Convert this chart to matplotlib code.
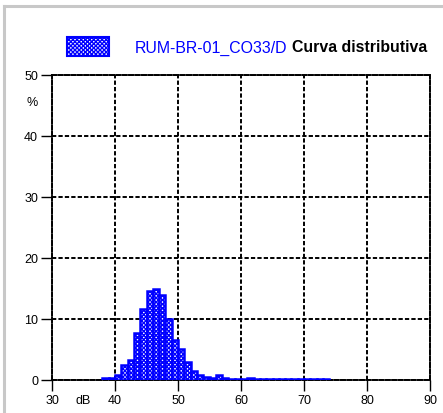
import numpy as np
import matplotlib.pyplot as plt
from matplotlib.lines import Line2D

plt.rcParams['font.family'] = ['Liberation Sans', 'DejaVu Sans']
plt.rcParams['hatch.color'] = 'blue'
plt.rcParams['hatch.linewidth'] = 1.0

# class lower edges (dB) and percentages
levels = np.arange(38, 74)
pct = [0.3, 0.4, 0.9, 2.5, 3.2, 7.7, 11.6, 14.6, 14.9, 14.0,
       10.0, 6.6, 5.1, 3.0, 1.4, 0.9, 0.45, 0.3, 0.8, 0.3,
       0.2, 0.2, 0.15, 0.4, 0.2, 0.15, 0.15, 0.15, 0.15, 0.15,
       0.15, 0.15, 0.15, 0.2, 0.2, 0.2]
xticks = [30, 40, 50, 60, 70, 80, 90]
yticks = [0, 10, 20, 30, 40, 50]
name = "RUM-BR-01_CO33/D"
title = "Curva distributiva"

fig = plt.figure(figsize=(4.43, 4.14), dpi=100)
ax = fig.add_axes([52/443, 33/414, 378/443, 305/414])

ax.bar(levels, pct, width=1, align='edge', facecolor='white',
       edgecolor='blue', linewidth=1.8, hatch='xxxxxxxx', zorder=3)

dash = (0, (2.2, 1.1))
ax.set_xlim(30, 90)
ax.set_ylim(0, 50)
ax.set_xticks(xticks)
ax.set_yticks(yticks)
ax.tick_params(direction='out', length=8, width=1, labelsize=9, pad=2)
ax.grid(True, color='black', linestyle=dash, linewidth=1.4, zorder=1)
for s in ax.spines.values():
    s.set_linestyle(dash)
    s.set_linewidth(1.4)

ax.text(-0.053, 45.5, "%", fontsize=9, ha='center', va='center',
        transform=ax.get_yaxis_transform())
ax.text(35, -0.045, "dB", fontsize=9, ha='center', va='top',
        transform=ax.get_xaxis_transform())

# legend patch and title
fig.patches.append(plt.Rectangle((67/443, 357/414), 42/443, 19/414,
                                 transform=fig.transFigure, facecolor='white',
                                 edgecolor='blue', linewidth=1.5, hatch='xxxxxxxx'))
t1 = fig.text(135/443, 366/414, name, color='blue', fontsize=11.4, va='center')
fig.canvas.draw()
bb = t1.get_window_extent()
fig.text(bb.x1/443 + 4/443, 366/414, title, color='black', fontsize=11.4,
         fontweight='bold', va='center')

# grey frame
fig.add_artist(Line2D([4/443, 4/443], [0, 407.5/414], color='#c8c8c8', linewidth=2.2,
                      transform=fig.transFigure))
fig.add_artist(Line2D([4/443, 1], [407.5/414, 407.5/414], color='#c8c8c8', linewidth=2.2,
                      transform=fig.transFigure))

fig.savefig("out.png", dpi=100)
